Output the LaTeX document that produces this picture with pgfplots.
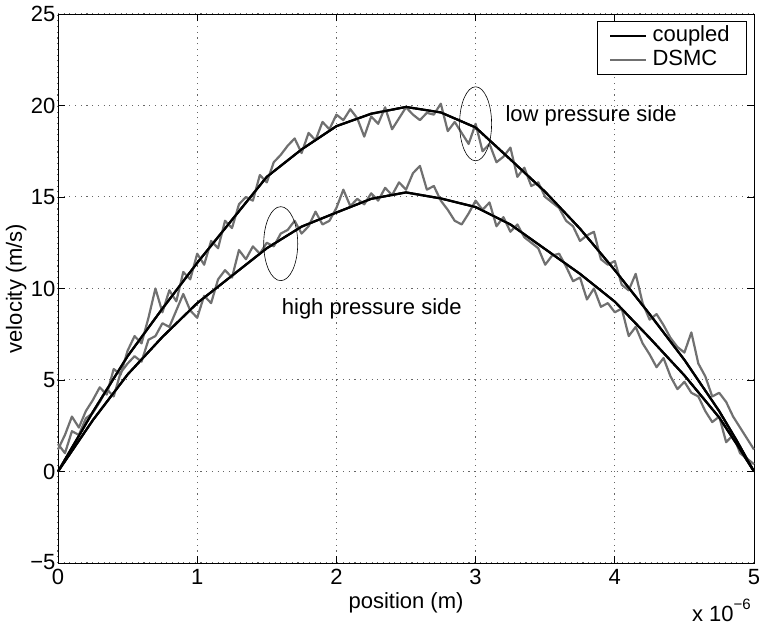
\documentclass[border=0pt]{standalone}
\usepackage{fontspec}
\setmainfont{Liberation Sans}
\usepackage{pgfplots}
\pgfplotsset{compat=1.18}
\usepackage{pgfplotstable}

% coupled solution, low pressure side (x in units of 1e-6 m)
\pgfplotstableread{
x y
0.00 0
0.25 3.25
0.50 6.3
0.75 8.9
1.00 11.4
1.25 13.75
1.50 16.1
1.75 17.6
2.00 18.87
2.25 19.55
2.50 19.92
2.75 19.62
3.00 18.8
3.25 17.05
3.50 15.28
3.75 13.27
4.00 11.0
4.25 8.6
4.50 6.1
4.75 3.3
4.875 1.7
5.00 0
}\coupledlow

% coupled solution, high pressure side
\pgfplotstableread{
x y
0.00 0
0.25 2.8
0.50 5.3
0.75 7.35
1.00 9.2
1.25 10.7
1.50 12.2
1.75 13.38
2.00 14.15
2.25 14.9
2.50 15.25
2.75 14.92
3.00 14.45
3.25 13.5
3.50 12.15
3.75 10.8
4.00 9.28
4.25 7.3
4.50 5.25
4.75 2.95
4.875 1.5
5.00 0
}\coupledhigh

% DSMC, low pressure side
\pgfplotstableread{
x y
0.00 1.2
0.05 2.0
0.10 3.0
0.15 2.4
0.20 3.3
0.25 3.9
0.30 4.6
0.35 4.2
0.40 5.6
0.45 5.3
0.50 6.6
0.55 7.4
0.60 7.0
0.65 8.4
0.70 10.0
0.75 8.7
0.80 9.9
0.85 9.3
0.90 10.9
0.95 10.5
1.00 11.9
1.05 11.3
1.10 12.6
1.15 12.2
1.20 13.7
1.25 13.3
1.30 14.6
1.35 15.0
1.40 14.8
1.45 16.2
1.50 15.8
1.55 16.9
1.60 17.3
1.65 17.8
1.70 18.2
1.75 17.4
1.80 18.5
1.85 18.1
1.90 19.1
1.95 18.7
2.00 19.5
2.05 19.2
2.10 19.8
2.15 19.3
2.20 18.3
2.25 19.4
2.30 19.0
2.35 19.9
2.40 18.7
2.45 19.3
2.50 19.9
2.55 19.5
2.60 19.2
2.65 19.6
2.70 19.5
2.75 20.1
2.80 18.6
2.85 19.1
2.90 18.5
2.95 17.9
3.00 19.0
3.05 17.5
3.10 17.9
3.15 16.9
3.20 17.2
3.25 17.7
3.30 16.1
3.35 16.6
3.40 15.6
3.45 15.8
3.50 15.0
3.55 14.7
3.60 14.4
3.65 13.7
3.70 13.4
3.75 12.6
3.80 12.9
3.85 13.1
3.90 11.6
3.95 11.3
4.00 11.5
4.05 10.2
4.10 9.9
4.15 10.8
4.20 9.2
4.25 8.3
4.30 8.6
4.35 8.0
4.40 7.3
4.45 6.8
4.50 6.5
4.55 7.6
4.60 5.9
4.65 5.2
4.70 4.1
4.75 4.3
4.80 3.8
4.85 3.0
4.90 2.4
4.95 1.8
5.00 1.2
}\dsmclow

% DSMC, high pressure side
\pgfplotstableread{
x y
0.00 1.5
0.05 1.0
0.10 2.2
0.15 2.0
0.20 2.9
0.25 3.2
0.30 3.8
0.35 4.5
0.40 4.1
0.45 5.4
0.50 5.9
0.55 6.3
0.60 6.0
0.65 7.2
0.70 7.4
0.75 8.1
0.80 7.9
0.85 8.8
0.90 9.7
0.95 8.8
1.00 8.4
1.05 9.6
1.10 9.2
1.15 10.5
1.20 11.0
1.25 10.6
1.30 12.1
1.35 11.6
1.40 12.3
1.45 11.9
1.50 12.5
1.55 12.3
1.60 13.0
1.65 13.2
1.70 13.7
1.75 13.0
1.80 13.4
1.85 14.2
1.90 13.5
1.95 13.7
2.00 14.4
2.05 15.4
2.10 14.5
2.15 14.9
2.20 14.6
2.25 15.2
2.30 14.8
2.35 15.5
2.40 15.1
2.45 15.8
2.50 15.4
2.55 16.3
2.60 16.7
2.65 15.4
2.70 15.6
2.75 14.8
2.80 14.3
2.85 13.7
2.90 13.5
2.95 14.1
3.00 14.8
3.05 14.3
3.10 14.7
3.15 13.4
3.20 13.9
3.25 13.1
3.30 13.5
3.35 12.8
3.40 12.5
3.45 12.2
3.50 11.3
3.55 11.8
3.60 11.9
3.65 11.2
3.70 10.4
3.75 10.6
3.80 9.4
3.85 10.0
3.90 9.0
3.95 9.2
4.00 8.7
4.05 8.9
4.10 7.4
4.15 7.9
4.20 7.0
4.25 6.4
4.30 5.7
4.35 6.2
4.40 5.2
4.45 4.5
4.50 4.9
4.55 4.3
4.60 4.1
4.65 3.3
4.70 2.7
4.75 3.0
4.80 1.6
4.85 2.0
4.90 1.0
4.95 0.7
5.00 0.4
}\dsmchigh

\definecolor{dsmcgray}{RGB}{112,112,112}
\newcommand{\lbl}{\fontsize{22}{25}\selectfont}

\begin{document}
\begin{tikzpicture}
\begin{axis}[
  scale only axis,
  width=696pt, height=549pt,
  xmin=0, xmax=5, ymin=-5, ymax=25,
  xtick={0,1,2,3,4,5},
  ytick={-5,0,5,10,15,20,25},
  yticklabels={\raisebox{3pt}{−5},0,5,10,15,20,25},
  xticklabels={0,1,2,3,4,5},
  tick align=inside,
  major tick length=7pt,
  tick style={line width=0.8pt, black},
  axis line style={line width=0.8pt},
  grid=major,
  major grid style={line width=1pt, gray!80!black, dash pattern=on 1.1pt off 4.6pt},
  tick label style={font=\lbl},
  yticklabel style={xshift=1pt},
  xticklabel style={yshift=-3pt},
  label style={font=\lbl},
  xlabel={position (m)},
  ylabel={velocity (m/s)},
  xlabel style={at={(axis description cs:0.5,-0.073)}, anchor=center},
  ylabel style={at={(axis description cs:-0.060,0.5)}, anchor=center},
  clip=false,
  legend style={at={(axis description cs:1,1)}, anchor=north east,
    xshift=-7pt, yshift=-7pt, draw=black, line width=0.8pt,
    font=\lbl, inner xsep=12pt, inner ysep=4pt,
    row sep=3pt, cells={anchor=west},
    nodes={inner xsep=5pt, inner ysep=0pt, text height=16pt, text depth=5pt}},
  legend image code/.code={\draw[#1] (0pt,0pt) -- (36pt,0pt);},
]
\addplot[black, line width=2.2pt, line join=round] table {\coupledlow};
\addlegendentry{coupled}
\addplot[dsmcgray, line width=2.2pt, line join=round] table {\dsmclow};
\addlegendentry{DSMC}
\addplot[black, line width=2.2pt, line join=round, forget plot] table {\coupledhigh};
\addplot[dsmcgray, line width=2.2pt, line join=round, forget plot] table {\dsmchigh};
% redraw the coupled curves on top of the noisy DSMC data
\addplot[black, line width=2.2pt, line join=round, forget plot] table {\coupledlow};
\addplot[black, line width=2.2pt, line join=round, forget plot] table {\coupledhigh};

\draw[line width=0.6pt] (axis cs:3.0,19.0) ellipse [x radius=16pt, y radius=37pt];
\draw[line width=0.6pt] (axis cs:1.6,12.45) ellipse [x radius=17pt, y radius=37pt];
\node[anchor=west, font=\lbl, inner sep=0pt] at (axis cs:3.214,19.45) {low pressure side};
\node[anchor=west, font=\lbl, inner sep=0pt] at (axis cs:1.607,8.9) {high pressure side};

\coordinate (bl) at (rel axis cs:0,0);
\coordinate (tr) at (rel axis cs:1,1);
\node[anchor=base east, font=\lbl, inner sep=0pt] at ([xshift=-3pt, yshift=-59pt]rel axis cs:1,0)
  {x 10\raisebox{0.55em}{\fontsize{15}{15}\selectfont −6}};
\end{axis}
\pgfresetboundingbox
\path[use as bounding box] ([xshift=-58pt, yshift=-64pt]bl) rectangle ([xshift=7pt, yshift=14pt]tr);
\end{tikzpicture}
\end{document}
